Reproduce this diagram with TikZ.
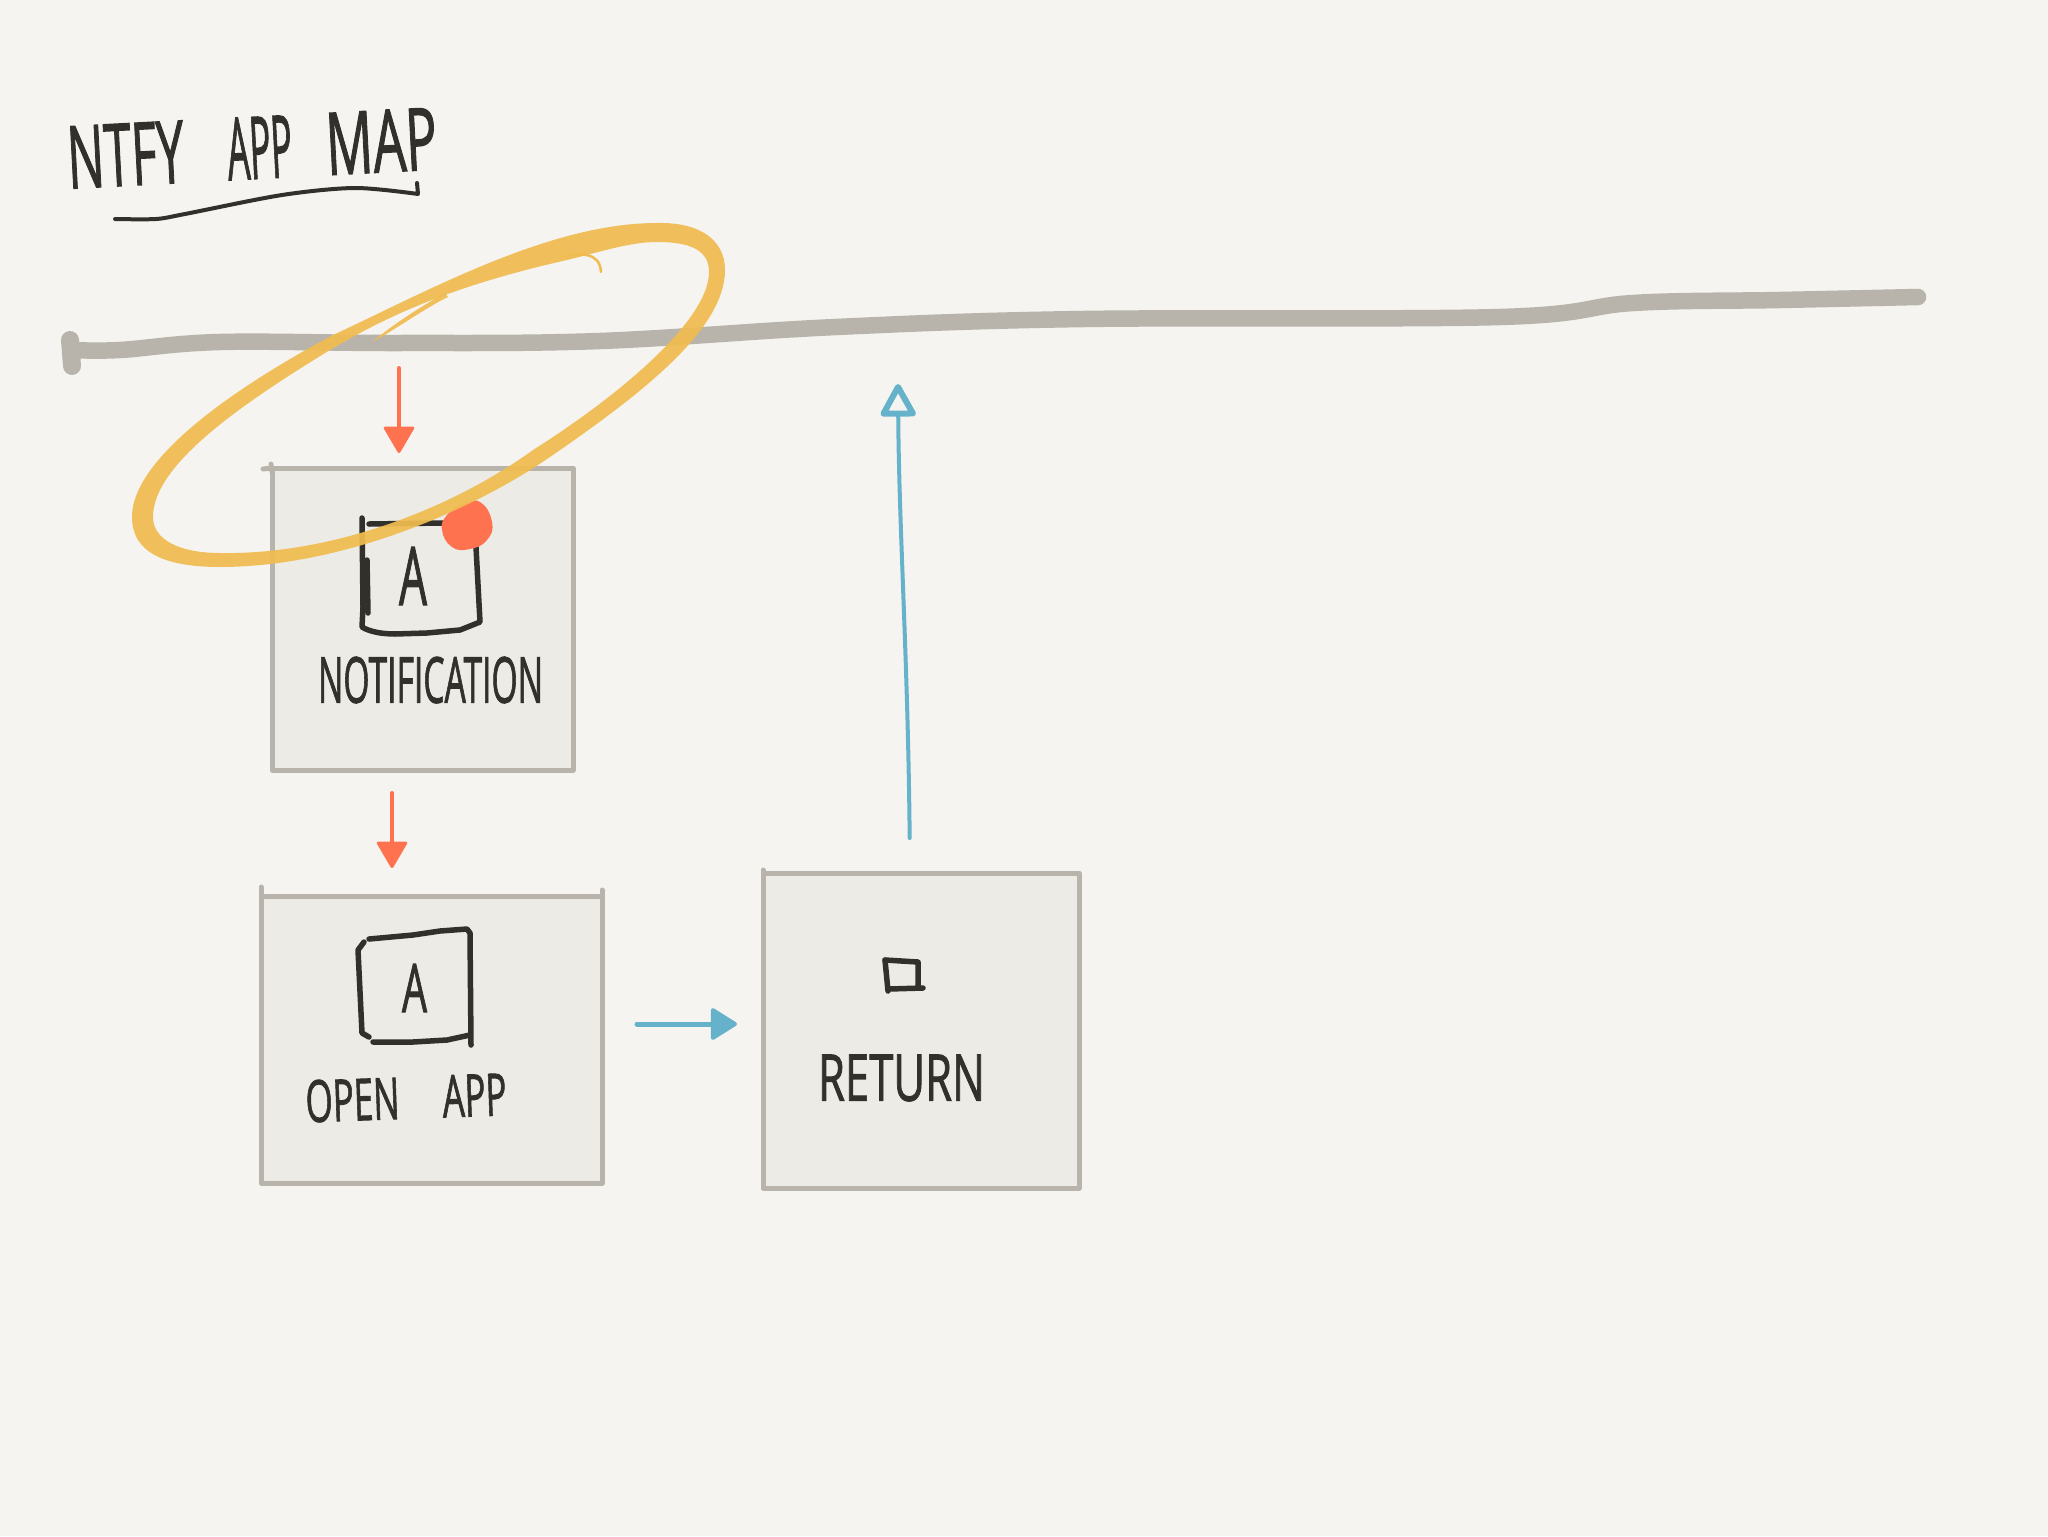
\documentclass[tikz,border=0pt]{standalone}
\usepackage{graphicx}
\usepackage{fontspec}
\setmainfont{Open Sans}[FakeBold=1.6]
\usetikzlibrary{arrows.meta}
\newdimen\px \px=0.5pt
\newcommand{\hand}[3]{\resizebox{#1\px}{#2\px}{#3}}
\definecolor{paper}{HTML}{F5F4F0}
\definecolor{boxfill}{HTML}{ECEBE6}
\definecolor{boxline}{HTML}{B8B4AB}
\definecolor{ink}{HTML}{32302B}
\definecolor{halo}{HTML}{F0BC50}
\definecolor{redpen}{HTML}{FF7250}
\definecolor{bluepen}{HTML}{67B2CB}
\tikzset{
  cardbox/.style={draw=boxline,fill=boxfill,line width=2.5pt,line join=round,inner sep=0pt,outer sep=0pt},
  nub/.style={draw=boxline,line width=2.5pt,line cap=round},
  inkline/.style={draw=ink,line width=2.75pt,line cap=round,line join=round},
  label/.style={inner sep=0pt,outer sep=0pt,text=ink},
  redarrow/.style={draw=redpen,line width=2pt,line cap=round,-{Triangle[round,length=14pt,width=16pt,line width=1.5pt]}},
  bluearrow/.style={draw=bluepen,line width=2.5pt,line cap=round,-{Triangle[round,length=14pt,width=17pt,line width=2pt]}},
  blueopen/.style={draw=bluepen,line width=2pt,line cap=round,-{Triangle[open,round,length=18pt,width=19pt,line width=3pt]}}
}
\begin{document}
\begin{tikzpicture}[x=0.5pt,y=-0.5pt]
\useasboundingbox[fill=paper] (0,0) rectangle (2048,1536);
% timeline
\draw[boxline,line width=8.25pt,line cap=round,line join=round] plot[smooth,tension=.6] coordinates {(72,350) (120,350) (220,342) (400,343) (600,341) (836,327) (1084,319) (1500,317) (1633,303) (1780,300) (1918,297)};
\draw[boxline,line width=9pt,line cap=round] (70,340) -- (72,366);
% title
\node[label,rotate=3,anchor=center] (title) at (252,148) {\hand{117}{62}{NTFY}\hspace{43\px}\hand{65}{62}{APP}\hspace{34\px}\hand{111}{62}{MAP}};
\draw[inkline,line width=2pt] plot[smooth,tension=.5] coordinates {(115,219) (156,219) (185,214) (282,195) (355,188) (418,194)} -- (417,183);
% boxes
\node[cardbox,minimum width=150.5pt,minimum height=151pt] (box1) at (422.5,619) {};
\node[cardbox,minimum width=170.5pt,minimum height=143.5pt] (box2) at (431.5,1039.5) {};
\node[cardbox,minimum width=158pt,minimum height=157.5pt] (box3) at (921,1030.5) {};
\draw[nub] (263,469) -- (272,468) (271,464) -- (272,472);
\draw[nub] (261,887) -- (261,900) (602,890) -- (602,900);
\draw[nub] (763,870) -- (763,880);
% notification icon
\draw[inkline] (362,518) -- (363,607) -- (362,627) .. controls (370,632) and (383,634) .. (395,634) -- (427,633) -- (460,630) -- (480,622) -- (476,547);
\draw[inkline] (367,560) -- (368,613);
\draw[inkline] (369,524) -- (443,523);
\node[label] (notifA) at (413,576) {\hand{28}{58}{A}};
\node[label] (notifL) at (430.5,680) {\hand{225}{46}{NOTIFICATION}};
% open app icon
\draw[inkline] (369,939) -- (413,935) -- (440,931) -- (467,929) -- (470,933) -- (471,1045);
\draw[inkline] (373,1042) -- (413,1042) -- (447,1040) -- (470,1035);
\draw[inkline] (364,942) -- (358,950) -- (362,1033) -- (369,1037);
\node[label] (openA) at (414.5,988) {\hand{25}{48}{A}};
\node[label,rotate=2] (openL) at (406,1098) {\hand{94}{42}{OPEN}\hspace{43\px}\hand{64}{42}{APP}};
% return icon
\draw[inkline] (885,960) -- (888,991);
\draw[inkline] (885,960) -- (918,962) -- (918,987);
\draw[inkline] (889,989) -- (923,988);
\node[label] (retL) at (901.5,1078) {\hand{167}{46}{RETURN}};
% red dot
\fill[redpen] plot[smooth cycle,tension=.8] coordinates {(480,502) (492,522) (487,540) (470,549) (452,547) (442,530) (447,515) (462,505)};
% halo ring
\fill[halo,opacity=.93,even odd rule]
 (657,223) .. controls (700,222) and (725,240) .. (725,270)
 .. controls (725,330) and (640,395) .. (550,457)
 .. controls (470,512) and (340,567) .. (220,567)
 .. controls (160,567) and (132,550) .. (132,517)
 .. controls (132,460) and (230,390) .. (333,335)
 .. controls (430,290) and (550,223) .. (657,223) -- cycle
 (657,242) .. controls (690,242) and (709,250) .. (709,272)
 .. controls (709,320) and (620,395) .. (533,450)
 .. controls (450,510) and (330,555) .. (220,553)
 .. controls (180,553) and (153,540) .. (153,517)
 .. controls (153,465) and (240,405) .. (330,350)
 .. controls (400,308) and (470,282) .. (567,260)
 .. controls (600,252) and (630,242) .. (657,242) -- cycle;
\fill[halo,opacity=.93] (372,342) .. controls (390,327) and (415,310) .. (445,293) -- (448,297) .. controls (425,308) and (395,330) .. (372,342) -- cycle;
\draw[halo,line width=1.25pt,line cap=round] (560,258) .. controls (580,252) and (600,252) .. (601,272);
% connectors
\coordinate (tlA) at (399,368);
\coordinate (tlB) at (898,384);
\coordinate (xA) at (392,0);
\coordinate (xB) at (910,0);
\coordinate (yC) at (0,1024);
\draw[redarrow,shorten >=7.5pt] (tlA) -- (box1.north -| tlA);
\draw[redarrow,shorten <=11.5pt,shorten >=14pt] (box1.south -| xA) -- (box2.north -| xA);
\draw[bluearrow,shorten <=17.5pt,shorten >=13pt] (box2.east |- yC) -- (box3.west |- yC);
\draw[blueopen,shorten <=17.5pt] (box3.north -| xB) .. controls (908,660) and (899,530) .. (tlB);
\end{tikzpicture}
\end{document}
